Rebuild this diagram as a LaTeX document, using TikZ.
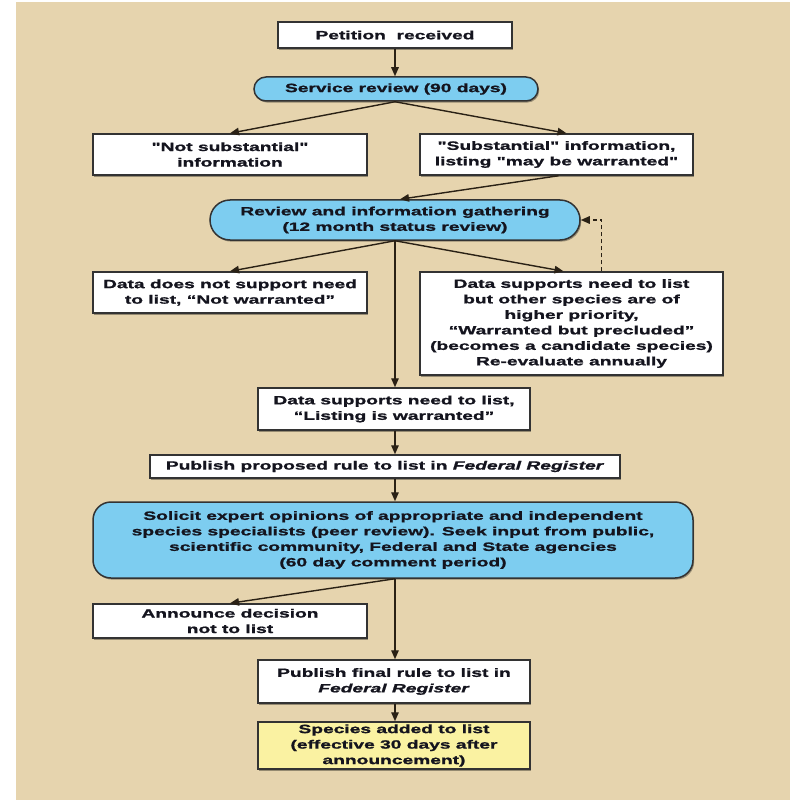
\documentclass[tikz,border=0pt]{standalone}
\usepackage{fontspec}
\newfontfamily\dfont{Liberation Sans}[FakeStretch=1.6, FakeBold=1.3]
\usetikzlibrary{arrows.meta,shadows}
\definecolor{bgtan}{HTML}{E6D4AE}
\definecolor{pillblue}{HTML}{7DCDF0}
\definecolor{boxyellow}{HTML}{FAF2A2}
\definecolor{edgec}{HTML}{333333}
\definecolor{arrowc}{HTML}{2A2115}
\definecolor{txtc}{HTML}{14141E}
\begin{document}
\begin{tikzpicture}[x=1pt,y=-1pt,
  base/.style={draw=edgec, line width=1.5pt, text=txtc,
    font=\dfont\bfseries\fontsize{12}{15.5}\selectfont, align=center, inner sep=0pt,
    drop shadow={shadow xshift=1.2pt, shadow yshift=-1.6pt, opacity=0.35, fill=black}},
  wbox/.style={base, rectangle, fill=white},
  ybox/.style={base, rectangle, fill=boxyellow},
  pill/.style={base, rectangle, fill=pillblue},
  arr/.style={draw=arrowc, line width=1.4pt, -{Triangle[length=9pt,width=7.5pt]}},
  darr/.style={arr, dash pattern=on 4pt off 3pt}
]
\useasboundingbox (0,0) rectangle (790,810);
\fill[bgtan] (16,2) rectangle (790,800);

\node[wbox, minimum width=234pt, minimum height=26pt] (pet) at (395,35) {Petition\ \ received};
\node[pill, rounded corners=12pt, minimum width=284pt, minimum height=24pt] (svc) at (396,89) {Service review (90 days)};
\node[wbox, minimum width=274pt, minimum height=41pt] (ns) at (230,154.5) {"Not substantial"\\information};
\node[wbox, minimum width=273pt, minimum height=41pt] (sub) at (556.5,154.5) {"Substantial" information,\\listing "may be warranted"};
\node[pill, rounded corners=20pt, minimum width=370pt, minimum height=40pt] (rev) at (395,220) {Review and information gathering\\(12 month status review)};
\node[wbox, minimum width=274pt, minimum height=41pt] (dns) at (230,292.5) {Data does not support need\\to list, “Not warranted”};
\node[wbox, minimum width=303pt, minimum height=103pt] (wbp) at (571.5,323.5) {Data supports need to list\\but other species are of\\higher priority,\\“Warranted but precluded”\\(becomes a candidate species)\\Re-evaluate annually};
\node[wbox, minimum width=272pt, minimum height=42pt] (lw) at (394,409) {Data supports need to list,\\“Listing is warranted”};
\node[wbox, minimum width=470pt, minimum height=23pt] (ppr) at (385,466.5) {Publish proposed rule to list in \textit{Federal Register}};
\node[pill, rounded corners=18pt, minimum width=600pt, minimum height=76pt] (sol) at (393,540) {Solicit expert opinions of appropriate and independent\\species specialists (peer review). Seek input from public,\\scientific community, Federal and State agencies\\(60 day comment period)};
\node[wbox, minimum width=274pt, minimum height=34pt] (ann) at (230,621) {Announce decision\\not to list};
\node[wbox, minimum width=272pt, minimum height=43pt] (pfr) at (394,681.5) {Publish final rule to list in\\\textit{Federal Register}};
\node[ybox, minimum width=272pt, minimum height=47pt] (spa) at (394,745.5) {Species added to list\\(effective 30 days after\\announcement)};

\coordinate (c1) at (395,48);
\draw[arr] (pet.south -| c1) -- (svc.north -| c1);
\draw[arr] (svc.south -| c1) -- (ns.north);
\draw[arr] (svc.south -| c1) -- ([xshift=10pt]sub.north);
\draw[arr] ([xshift=2pt]sub.south) -- ([xshift=5pt]rev.north);
\draw[arr] (rev.south) -- (dns.north);
\draw[arr] (rev.south) -- ([xshift=-8pt]wbp.north);
\draw[arr] (rev.south) -- (rev.south |- lw.north);
\draw[darr] ([xshift=30pt]wbp.north) |- (rev.east);
\draw[arr] (lw.south -| c1) -- (ppr.north -| c1);
\draw[arr] (ppr.south -| c1) -- (sol.north -| c1);
\draw[arr] (sol.south -| c1) -- (ann.north);
\draw[arr] (sol.south -| c1) -- (pfr.north -| c1);
\draw[arr] (pfr.south -| c1) -- (spa.north -| c1);
\end{tikzpicture}
\end{document}
